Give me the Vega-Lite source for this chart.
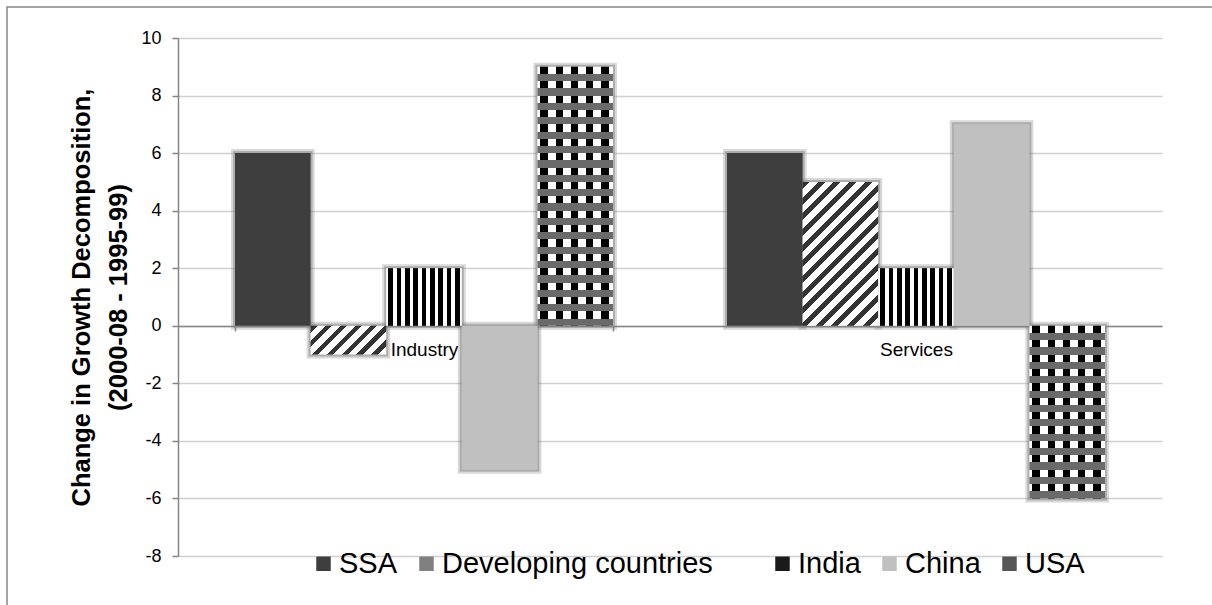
{
  "$schema": "https://vega.github.io/schema/vega-lite/v6.json",
  "width": 1213,
  "height": 606,
  "padding": {"left": 7, "top": 7, "right": -8, "bottom": -8},
  "autosize": {"type": "none"},
  "background": "#ffffff",
  "data": {
    "values": [
      {"sector": "Industry", "country": "SSA", "value": 6},
      {"sector": "Industry", "country": "Developing countries", "value": -1},
      {"sector": "Industry", "country": "India", "value": 2},
      {"sector": "Industry", "country": "China", "value": -5},
      {"sector": "Industry", "country": "USA", "value": 9},
      {"sector": "Services", "country": "SSA", "value": 6},
      {"sector": "Services", "country": "Developing countries", "value": 5},
      {"sector": "Services", "country": "India", "value": 2},
      {"sector": "Services", "country": "China", "value": 7},
      {"sector": "Services", "country": "USA", "value": -6}
    ]
  },
  "encoding": {
    "x": {
      "field": "sector",
      "type": "nominal",
      "scale": {"range": [171, 1155], "paddingInner": 0.2317, "paddingOuter": 0.11585},
      "axis": {
        "orient": "bottom",
        "offset": -287,
        "title": null,
        "labelAngle": 0,
        "labelFont": "Liberation Sans",
        "labelFontSize": 19,
        "labelColor": "#000000",
        "labelPadding": 9,
        "tickBand": "extent",
        "tickSize": 5,
        "tickColor": "#868686",
        "tickWidth": 1.5,
        "domainColor": "#868686",
        "domainWidth": 1.5,
        "grid": false
      }
    },
    "xOffset": {
      "field": "country",
      "type": "nominal",
      "scale": {"domain": ["SSA", "Developing countries", "India", "China", "USA"], "paddingInner": 0, "paddingOuter": 0}
    },
    "y": {
      "field": "value",
      "type": "quantitative",
      "scale": {"domain": [-8, 10], "range": [549, 31], "nice": false, "zero": false},
      "axis": {
        "values": [-8, -6, -4, -2, 0, 2, 4, 6, 8, 10],
        "offset": -171,
        "labelExpr": "'' + datum.value",
        "title": ["Change in Growth Decomposition,", "(2000-08 - 1995-99)"],
        "titleFont": "Liberation Sans",
        "titleFontSize": 25.5,
        "titleFontWeight": "bold",
        "titleColor": "#000000",
        "titleLineHeight": 37,
        "titlePadding": 9,
        "labelFont": "Liberation Sans",
        "labelFontSize": 18,
        "labelColor": "#000000",
        "labelPadding": 11,
        "tickSize": 6,
        "tickColor": "#868686",
        "tickWidth": 1.5,
        "domainColor": "#868686",
        "domainWidth": 1.5,
        "grid": true,
        "gridColor": "#d0d0d0",
        "gridWidth": 1.5
      }
    }
  },
  "layer": [
    {
      "mark": {"type": "bar", "fill": "#858585", "stroke": "#858585", "strokeWidth": 8, "opacity": 0.3}
    },
    {
      "mark": {"type": "bar", "fill": "#858585", "stroke": "#858585", "strokeWidth": 4, "opacity": 0.5}
    },
    {
      "mark": {"type": "bar", "strokeWidth": 0},
      "encoding": {
        "fill": {
          "field": "country",
          "type": "nominal",
          "scale": {
            "domain": ["SSA", "Developing countries", "India", "China", "USA"],
            "range": ["#3e3e3e", "#808080", "#1a1a1a", "#c0c0c0", "#555555"]
          },
          "legend": {
            "orient": "none",
            "legendX": 302,
            "legendY": 542,
            "direction": "horizontal",
            "title": null,
            "padding": 0,
            "labelFont": "Liberation Sans",
            "labelFontSize": 29,
            "labelColor": "#000000",
            "labelLimit": 500,
            "labelOffset": 1,
            "columnPadding": 14,
            "symbolType": "square",
            "symbolSize": 210,
            "symbolStrokeWidth": 0,
            "labelExpr": "datum.label === 'Developing countries' ? datum.label + '     \u200b' : datum.label"
          },
          "condition": [
            {"test": "datum.country === 'India'", "value": {"gradient": "linear", "x1": 0, "y1": 0, "x2": 1, "y2": 0, "stops": [
              {"offset": 0, "color": "#ffffff"}, {"offset": 0.03, "color": "#ffffff"}, {"offset": 0.03, "color": "#000000"}, {"offset": 0.09, "color": "#000000"},
              {"offset": 0.09, "color": "#ffffff"}, {"offset": 0.14, "color": "#ffffff"}, {"offset": 0.14, "color": "#000000"}, {"offset": 0.2, "color": "#000000"},
              {"offset": 0.2, "color": "#ffffff"}, {"offset": 0.25, "color": "#ffffff"}, {"offset": 0.25, "color": "#000000"}, {"offset": 0.31, "color": "#000000"},
              {"offset": 0.31, "color": "#ffffff"}, {"offset": 0.36, "color": "#ffffff"}, {"offset": 0.36, "color": "#000000"}, {"offset": 0.42, "color": "#000000"},
              {"offset": 0.42, "color": "#ffffff"}, {"offset": 0.47, "color": "#ffffff"}, {"offset": 0.47, "color": "#000000"}, {"offset": 0.53, "color": "#000000"},
              {"offset": 0.53, "color": "#ffffff"}, {"offset": 0.58, "color": "#ffffff"}, {"offset": 0.58, "color": "#000000"}, {"offset": 0.64, "color": "#000000"},
              {"offset": 0.64, "color": "#ffffff"}, {"offset": 0.69, "color": "#ffffff"}, {"offset": 0.69, "color": "#000000"}, {"offset": 0.75, "color": "#000000"},
              {"offset": 0.75, "color": "#ffffff"}, {"offset": 0.8, "color": "#ffffff"}, {"offset": 0.8, "color": "#000000"}, {"offset": 0.86, "color": "#000000"},
              {"offset": 0.86, "color": "#ffffff"}, {"offset": 0.91, "color": "#ffffff"}, {"offset": 0.91, "color": "#000000"}, {"offset": 0.97, "color": "#000000"},
              {"offset": 0.97, "color": "#ffffff"}, {"offset": 1, "color": "#ffffff"}
            ]}},
            {"test": "datum.country === 'USA'", "value": {"gradient": "linear", "x1": 0, "y1": 0, "x2": 1, "y2": 0, "stops": [
              {"offset": 0, "color": "#ffffff"}, {"offset": 0.04, "color": "#ffffff"}, {"offset": 0.04, "color": "#000000"}, {"offset": 0.142, "color": "#000000"},
              {"offset": 0.142, "color": "#ffffff"}, {"offset": 0.24, "color": "#ffffff"}, {"offset": 0.24, "color": "#000000"}, {"offset": 0.342, "color": "#000000"},
              {"offset": 0.342, "color": "#ffffff"}, {"offset": 0.44, "color": "#ffffff"}, {"offset": 0.44, "color": "#000000"}, {"offset": 0.542, "color": "#000000"},
              {"offset": 0.542, "color": "#ffffff"}, {"offset": 0.64, "color": "#ffffff"}, {"offset": 0.64, "color": "#000000"}, {"offset": 0.742, "color": "#000000"},
              {"offset": 0.742, "color": "#ffffff"}, {"offset": 0.84, "color": "#ffffff"}, {"offset": 0.84, "color": "#000000"}, {"offset": 0.942, "color": "#000000"},
              {"offset": 0.942, "color": "#ffffff"}, {"offset": 1, "color": "#ffffff"}
            ]}},
            {"test": "datum.country === 'Developing countries' && datum.sector === 'Industry'", "value": {"gradient": "linear", "x1": 0, "y1": 0, "x2": 1.206, "y2": 0.4595, "stops": [
              {"offset": 0, "color": "#333333"}, {"offset": 0.0643, "color": "#333333"}, {"offset": 0.0643, "color": "#ffffff"}, {"offset": 0.1429, "color": "#ffffff"},
              {"offset": 0.1429, "color": "#333333"}, {"offset": 0.2071, "color": "#333333"}, {"offset": 0.2071, "color": "#ffffff"}, {"offset": 0.2857, "color": "#ffffff"},
              {"offset": 0.2857, "color": "#333333"}, {"offset": 0.35, "color": "#333333"}, {"offset": 0.35, "color": "#ffffff"}, {"offset": 0.4286, "color": "#ffffff"},
              {"offset": 0.4286, "color": "#333333"}, {"offset": 0.4929, "color": "#333333"}, {"offset": 0.4929, "color": "#ffffff"}, {"offset": 0.5714, "color": "#ffffff"},
              {"offset": 0.5714, "color": "#333333"}, {"offset": 0.6357, "color": "#333333"}, {"offset": 0.6357, "color": "#ffffff"}, {"offset": 0.7143, "color": "#ffffff"},
              {"offset": 0.7143, "color": "#333333"}, {"offset": 0.7786, "color": "#333333"}, {"offset": 0.7786, "color": "#ffffff"}, {"offset": 0.8571, "color": "#ffffff"},
              {"offset": 0.8571, "color": "#333333"}, {"offset": 0.9214, "color": "#333333"}, {"offset": 0.9214, "color": "#ffffff"}, {"offset": 1, "color": "#ffffff"}
            ]}},
            {"test": "datum.country === 'Developing countries'", "value": {"gradient": "linear", "x1": 0, "y1": 0, "x2": 0.628, "y2": 1.195, "stops": [
              {"offset": 0, "color": "#333333"}, {"offset": 0.0321, "color": "#333333"}, {"offset": 0.0321, "color": "#ffffff"}, {"offset": 0.0714, "color": "#ffffff"},
              {"offset": 0.0714, "color": "#333333"}, {"offset": 0.1036, "color": "#333333"}, {"offset": 0.1036, "color": "#ffffff"}, {"offset": 0.1429, "color": "#ffffff"},
              {"offset": 0.1429, "color": "#333333"}, {"offset": 0.175, "color": "#333333"}, {"offset": 0.175, "color": "#ffffff"}, {"offset": 0.2143, "color": "#ffffff"},
              {"offset": 0.2143, "color": "#333333"}, {"offset": 0.2464, "color": "#333333"}, {"offset": 0.2464, "color": "#ffffff"}, {"offset": 0.2857, "color": "#ffffff"},
              {"offset": 0.2857, "color": "#333333"}, {"offset": 0.3179, "color": "#333333"}, {"offset": 0.3179, "color": "#ffffff"}, {"offset": 0.3571, "color": "#ffffff"},
              {"offset": 0.3571, "color": "#333333"}, {"offset": 0.3893, "color": "#333333"}, {"offset": 0.3893, "color": "#ffffff"}, {"offset": 0.4286, "color": "#ffffff"},
              {"offset": 0.4286, "color": "#333333"}, {"offset": 0.4607, "color": "#333333"}, {"offset": 0.4607, "color": "#ffffff"}, {"offset": 0.5, "color": "#ffffff"},
              {"offset": 0.5, "color": "#333333"}, {"offset": 0.5321, "color": "#333333"}, {"offset": 0.5321, "color": "#ffffff"}, {"offset": 0.5714, "color": "#ffffff"},
              {"offset": 0.5714, "color": "#333333"}, {"offset": 0.6036, "color": "#333333"}, {"offset": 0.6036, "color": "#ffffff"}, {"offset": 0.6429, "color": "#ffffff"},
              {"offset": 0.6429, "color": "#333333"}, {"offset": 0.675, "color": "#333333"}, {"offset": 0.675, "color": "#ffffff"}, {"offset": 0.7143, "color": "#ffffff"},
              {"offset": 0.7143, "color": "#333333"}, {"offset": 0.7464, "color": "#333333"}, {"offset": 0.7464, "color": "#ffffff"}, {"offset": 0.7857, "color": "#ffffff"},
              {"offset": 0.7857, "color": "#333333"}, {"offset": 0.8179, "color": "#333333"}, {"offset": 0.8179, "color": "#ffffff"}, {"offset": 0.8571, "color": "#ffffff"},
              {"offset": 0.8571, "color": "#333333"}, {"offset": 0.8893, "color": "#333333"}, {"offset": 0.8893, "color": "#ffffff"}, {"offset": 0.9286, "color": "#ffffff"},
              {"offset": 0.9286, "color": "#333333"}, {"offset": 0.9607, "color": "#333333"}, {"offset": 0.9607, "color": "#ffffff"}, {"offset": 1, "color": "#ffffff"}
            ]}}
          ]
        }
      }
    },
    {
      "transform": [{"filter": "datum.country === 'USA'"}],
      "mark": {"type": "bar", "strokeWidth": 0},
      "encoding": {
        "fill": {
          "condition": [
            {"test": "datum.sector === 'Industry'", "value": {"gradient": "linear", "x1": 0, "y1": 0, "x2": 0, "y2": 1, "stops": [
              {"offset": 0, "color": "rgba(0,0,0,0)"}, {"offset": 0.0278, "color": "rgba(0,0,0,0)"}, {"offset": 0.0278, "color": "#6a6a6a"}, {"offset": 0.0556, "color": "#6a6a6a"},
              {"offset": 0.0556, "color": "rgba(0,0,0,0)"}, {"offset": 0.0833, "color": "rgba(0,0,0,0)"}, {"offset": 0.0833, "color": "#6a6a6a"}, {"offset": 0.1111, "color": "#6a6a6a"},
              {"offset": 0.1111, "color": "rgba(0,0,0,0)"}, {"offset": 0.1389, "color": "rgba(0,0,0,0)"}, {"offset": 0.1389, "color": "#6a6a6a"}, {"offset": 0.1667, "color": "#6a6a6a"},
              {"offset": 0.1667, "color": "rgba(0,0,0,0)"}, {"offset": 0.1944, "color": "rgba(0,0,0,0)"}, {"offset": 0.1944, "color": "#6a6a6a"}, {"offset": 0.2222, "color": "#6a6a6a"},
              {"offset": 0.2222, "color": "rgba(0,0,0,0)"}, {"offset": 0.25, "color": "rgba(0,0,0,0)"}, {"offset": 0.25, "color": "#6a6a6a"}, {"offset": 0.2778, "color": "#6a6a6a"},
              {"offset": 0.2778, "color": "rgba(0,0,0,0)"}, {"offset": 0.3056, "color": "rgba(0,0,0,0)"}, {"offset": 0.3056, "color": "#6a6a6a"}, {"offset": 0.3333, "color": "#6a6a6a"},
              {"offset": 0.3333, "color": "rgba(0,0,0,0)"}, {"offset": 0.3611, "color": "rgba(0,0,0,0)"}, {"offset": 0.3611, "color": "#6a6a6a"}, {"offset": 0.3889, "color": "#6a6a6a"},
              {"offset": 0.3889, "color": "rgba(0,0,0,0)"}, {"offset": 0.4167, "color": "rgba(0,0,0,0)"}, {"offset": 0.4167, "color": "#6a6a6a"}, {"offset": 0.4444, "color": "#6a6a6a"},
              {"offset": 0.4444, "color": "rgba(0,0,0,0)"}, {"offset": 0.4722, "color": "rgba(0,0,0,0)"}, {"offset": 0.4722, "color": "#6a6a6a"}, {"offset": 0.5, "color": "#6a6a6a"},
              {"offset": 0.5, "color": "rgba(0,0,0,0)"}, {"offset": 0.5278, "color": "rgba(0,0,0,0)"}, {"offset": 0.5278, "color": "#6a6a6a"}, {"offset": 0.5556, "color": "#6a6a6a"},
              {"offset": 0.5556, "color": "rgba(0,0,0,0)"}, {"offset": 0.5833, "color": "rgba(0,0,0,0)"}, {"offset": 0.5833, "color": "#6a6a6a"}, {"offset": 0.6111, "color": "#6a6a6a"},
              {"offset": 0.6111, "color": "rgba(0,0,0,0)"}, {"offset": 0.6389, "color": "rgba(0,0,0,0)"}, {"offset": 0.6389, "color": "#6a6a6a"}, {"offset": 0.6667, "color": "#6a6a6a"},
              {"offset": 0.6667, "color": "rgba(0,0,0,0)"}, {"offset": 0.6944, "color": "rgba(0,0,0,0)"}, {"offset": 0.6944, "color": "#6a6a6a"}, {"offset": 0.7222, "color": "#6a6a6a"},
              {"offset": 0.7222, "color": "rgba(0,0,0,0)"}, {"offset": 0.75, "color": "rgba(0,0,0,0)"}, {"offset": 0.75, "color": "#6a6a6a"}, {"offset": 0.7778, "color": "#6a6a6a"},
              {"offset": 0.7778, "color": "rgba(0,0,0,0)"}, {"offset": 0.8056, "color": "rgba(0,0,0,0)"}, {"offset": 0.8056, "color": "#6a6a6a"}, {"offset": 0.8333, "color": "#6a6a6a"},
              {"offset": 0.8333, "color": "rgba(0,0,0,0)"}, {"offset": 0.8611, "color": "rgba(0,0,0,0)"}, {"offset": 0.8611, "color": "#6a6a6a"}, {"offset": 0.8889, "color": "#6a6a6a"},
              {"offset": 0.8889, "color": "rgba(0,0,0,0)"}, {"offset": 0.9167, "color": "rgba(0,0,0,0)"}, {"offset": 0.9167, "color": "#6a6a6a"}, {"offset": 0.9444, "color": "#6a6a6a"},
              {"offset": 0.9444, "color": "rgba(0,0,0,0)"}, {"offset": 0.9722, "color": "rgba(0,0,0,0)"}, {"offset": 0.9722, "color": "#6a6a6a"}, {"offset": 1, "color": "#6a6a6a"}
            ]}}
          ],
          "value": {"gradient": "linear", "x1": 0, "y1": 0, "x2": 0, "y2": 1, "stops": [
            {"offset": 0, "color": "rgba(0,0,0,0)"}, {"offset": 0.0417, "color": "rgba(0,0,0,0)"}, {"offset": 0.0417, "color": "#6a6a6a"}, {"offset": 0.0833, "color": "#6a6a6a"},
            {"offset": 0.0833, "color": "rgba(0,0,0,0)"}, {"offset": 0.125, "color": "rgba(0,0,0,0)"}, {"offset": 0.125, "color": "#6a6a6a"}, {"offset": 0.1667, "color": "#6a6a6a"},
            {"offset": 0.1667, "color": "rgba(0,0,0,0)"}, {"offset": 0.2083, "color": "rgba(0,0,0,0)"}, {"offset": 0.2083, "color": "#6a6a6a"}, {"offset": 0.25, "color": "#6a6a6a"},
            {"offset": 0.25, "color": "rgba(0,0,0,0)"}, {"offset": 0.2917, "color": "rgba(0,0,0,0)"}, {"offset": 0.2917, "color": "#6a6a6a"}, {"offset": 0.3333, "color": "#6a6a6a"},
            {"offset": 0.3333, "color": "rgba(0,0,0,0)"}, {"offset": 0.375, "color": "rgba(0,0,0,0)"}, {"offset": 0.375, "color": "#6a6a6a"}, {"offset": 0.4167, "color": "#6a6a6a"},
            {"offset": 0.4167, "color": "rgba(0,0,0,0)"}, {"offset": 0.4583, "color": "rgba(0,0,0,0)"}, {"offset": 0.4583, "color": "#6a6a6a"}, {"offset": 0.5, "color": "#6a6a6a"},
            {"offset": 0.5, "color": "rgba(0,0,0,0)"}, {"offset": 0.5417, "color": "rgba(0,0,0,0)"}, {"offset": 0.5417, "color": "#6a6a6a"}, {"offset": 0.5833, "color": "#6a6a6a"},
            {"offset": 0.5833, "color": "rgba(0,0,0,0)"}, {"offset": 0.625, "color": "rgba(0,0,0,0)"}, {"offset": 0.625, "color": "#6a6a6a"}, {"offset": 0.6667, "color": "#6a6a6a"},
            {"offset": 0.6667, "color": "rgba(0,0,0,0)"}, {"offset": 0.7083, "color": "rgba(0,0,0,0)"}, {"offset": 0.7083, "color": "#6a6a6a"}, {"offset": 0.75, "color": "#6a6a6a"},
            {"offset": 0.75, "color": "rgba(0,0,0,0)"}, {"offset": 0.7917, "color": "rgba(0,0,0,0)"}, {"offset": 0.7917, "color": "#6a6a6a"}, {"offset": 0.8333, "color": "#6a6a6a"},
            {"offset": 0.8333, "color": "rgba(0,0,0,0)"}, {"offset": 0.875, "color": "rgba(0,0,0,0)"}, {"offset": 0.875, "color": "#6a6a6a"}, {"offset": 0.9167, "color": "#6a6a6a"},
            {"offset": 0.9167, "color": "rgba(0,0,0,0)"}, {"offset": 0.9583, "color": "rgba(0,0,0,0)"}, {"offset": 0.9583, "color": "#6a6a6a"}, {"offset": 1, "color": "#6a6a6a"}
          ]}
        }
      }
    }
  ],
  "config": {
    "view": {"stroke": "#868686", "strokeWidth": 1.5}
  }
}
